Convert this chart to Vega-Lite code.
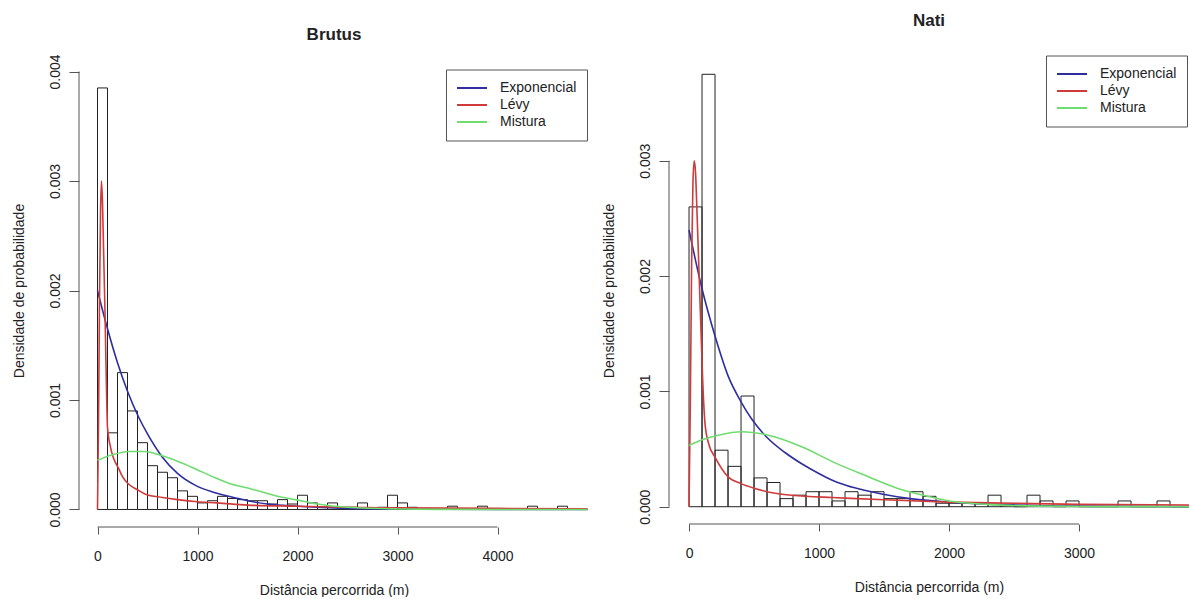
{
  "$schema": "https://vega.github.io/schema/vega-lite/v6.json",
  "background": "white",
  "padding": {"left": 11, "top": 12, "right": 0, "bottom": 0},
  "config": {
    "view": {"stroke": null},
    "font": "Liberation Sans",
    "axis": {"grid": false, "domain": false, "tickColor": "#555", "labelColor": "#222", "titleColor": "#222", "labelFont": "Liberation Sans", "titleFont": "Liberation Sans", "labelFontSize": 14, "titleFontSize": 14, "titleFontWeight": "normal", "labelFlush": false, "labelOverlap": false},
    "title": {"font": "Liberation Sans", "fontSize": 17, "fontWeight": "bold", "color": "#222", "anchor": "middle", "baseline": "alphabetic"}
  },
  "datasets": {
    "brutus_hist": [
      {"inicio": 0, "fim": 100, "densidade": 0.00385},
      {"inicio": 100, "fim": 200, "densidade": 0.0007},
      {"inicio": 200, "fim": 300, "densidade": 0.00125},
      {"inicio": 300, "fim": 400, "densidade": 0.0009},
      {"inicio": 400, "fim": 500, "densidade": 0.00061},
      {"inicio": 500, "fim": 600, "densidade": 0.0004},
      {"inicio": 600, "fim": 700, "densidade": 0.00034},
      {"inicio": 700, "fim": 800, "densidade": 0.00029},
      {"inicio": 800, "fim": 900, "densidade": 0.00017},
      {"inicio": 900, "fim": 1000, "densidade": 0.00012},
      {"inicio": 1000, "fim": 1100, "densidade": 0.00006},
      {"inicio": 1100, "fim": 1200, "densidade": 0.00008},
      {"inicio": 1200, "fim": 1300, "densidade": 0.00012},
      {"inicio": 1300, "fim": 1400, "densidade": 0.0001},
      {"inicio": 1400, "fim": 1500, "densidade": 0.00009},
      {"inicio": 1500, "fim": 1600, "densidade": 0.00008},
      {"inicio": 1600, "fim": 1700, "densidade": 0.00008},
      {"inicio": 1700, "fim": 1800, "densidade": 0.00005},
      {"inicio": 1800, "fim": 1900, "densidade": 0.00009},
      {"inicio": 1900, "fim": 2000, "densidade": 0.00005},
      {"inicio": 2000, "fim": 2100, "densidade": 0.00013},
      {"inicio": 2100, "fim": 2200, "densidade": 0.00006},
      {"inicio": 2200, "fim": 2300, "densidade": 0.00002},
      {"inicio": 2300, "fim": 2400, "densidade": 0.00006},
      {"inicio": 2400, "fim": 2500, "densidade": 0.00002},
      {"inicio": 2500, "fim": 2600, "densidade": 0.00002},
      {"inicio": 2600, "fim": 2700, "densidade": 0.00006},
      {"inicio": 2700, "fim": 2800, "densidade": 0},
      {"inicio": 2800, "fim": 2900, "densidade": 0.00002},
      {"inicio": 2900, "fim": 3000, "densidade": 0.00013},
      {"inicio": 3000, "fim": 3100, "densidade": 0.00006},
      {"inicio": 3100, "fim": 3200, "densidade": 0.00002},
      {"inicio": 3200, "fim": 3300, "densidade": 0},
      {"inicio": 3300, "fim": 3400, "densidade": 0},
      {"inicio": 3400, "fim": 3500, "densidade": 0},
      {"inicio": 3500, "fim": 3600, "densidade": 0.00003},
      {"inicio": 3600, "fim": 3700, "densidade": 0},
      {"inicio": 3700, "fim": 3800, "densidade": 0},
      {"inicio": 3800, "fim": 3900, "densidade": 0.00003},
      {"inicio": 3900, "fim": 4000, "densidade": 0},
      {"inicio": 4000, "fim": 4100, "densidade": 0},
      {"inicio": 4100, "fim": 4200, "densidade": 0},
      {"inicio": 4200, "fim": 4300, "densidade": 0},
      {"inicio": 4300, "fim": 4400, "densidade": 0.00003},
      {"inicio": 4400, "fim": 4500, "densidade": 0},
      {"inicio": 4500, "fim": 4600, "densidade": 0},
      {"inicio": 4600, "fim": 4700, "densidade": 0.00003},
      {"inicio": 4700, "fim": 4800, "densidade": 0},
      {"inicio": 4800, "fim": 4900, "densidade": 0}
    ],
    "brutus_curvas": [
      {"modelo": "Exponencial", "distancia": 0, "densidade": 0.002},
      {"modelo": "Exponencial", "distancia": 100, "densidade": 0.00165},
      {"modelo": "Exponencial", "distancia": 200, "densidade": 0.00134},
      {"modelo": "Exponencial", "distancia": 300, "densidade": 0.00108},
      {"modelo": "Exponencial", "distancia": 413, "densidade": 0.00084},
      {"modelo": "Exponencial", "distancia": 500, "densidade": 0.00069},
      {"modelo": "Exponencial", "distancia": 647, "densidade": 0.00048},
      {"modelo": "Exponencial", "distancia": 800, "densidade": 0.00033},
      {"modelo": "Exponencial", "distancia": 980, "densidade": 0.00022},
      {"modelo": "Exponencial", "distancia": 1150, "densidade": 0.00016},
      {"modelo": "Exponencial", "distancia": 1313, "densidade": 0.00012},
      {"modelo": "Exponencial", "distancia": 1500, "densidade": 0.00008},
      {"modelo": "Exponencial", "distancia": 1700, "densidade": 0.00005},
      {"modelo": "Exponencial", "distancia": 2000, "densidade": 0.00003},
      {"modelo": "Exponencial", "distancia": 2500, "densidade": 0.00001},
      {"modelo": "Exponencial", "distancia": 3000, "densidade": 0.000004},
      {"modelo": "Exponencial", "distancia": 4000, "densidade": 0.000001},
      {"modelo": "Exponencial", "distancia": 4900, "densidade": 0},
      {"modelo": "Lévy", "distancia": 0, "densidade": 0},
      {"modelo": "Lévy", "distancia": 10, "densidade": 0.0008},
      {"modelo": "Lévy", "distancia": 20, "densidade": 0.0019},
      {"modelo": "Lévy", "distancia": 30, "densidade": 0.0027},
      {"modelo": "Lévy", "distancia": 40, "densidade": 0.003},
      {"modelo": "Lévy", "distancia": 50, "densidade": 0.0028},
      {"modelo": "Lévy", "distancia": 60, "densidade": 0.0024},
      {"modelo": "Lévy", "distancia": 75, "densidade": 0.0018},
      {"modelo": "Lévy", "distancia": 90, "densidade": 0.0011},
      {"modelo": "Lévy", "distancia": 100, "densidade": 0.00075},
      {"modelo": "Lévy", "distancia": 130, "densidade": 0.00057},
      {"modelo": "Lévy", "distancia": 160, "densidade": 0.00047},
      {"modelo": "Lévy", "distancia": 213, "densidade": 0.00037},
      {"modelo": "Lévy", "distancia": 250, "densidade": 0.0003},
      {"modelo": "Lévy", "distancia": 313, "densidade": 0.00023},
      {"modelo": "Lévy", "distancia": 400, "densidade": 0.00018},
      {"modelo": "Lévy", "distancia": 480, "densidade": 0.00014},
      {"modelo": "Lévy", "distancia": 650, "densidade": 0.00011},
      {"modelo": "Lévy", "distancia": 800, "densidade": 0.00009},
      {"modelo": "Lévy", "distancia": 1000, "densidade": 0.00007},
      {"modelo": "Lévy", "distancia": 1200, "densidade": 0.00006},
      {"modelo": "Lévy", "distancia": 1500, "densidade": 0.00004},
      {"modelo": "Lévy", "distancia": 2000, "densidade": 0.00003},
      {"modelo": "Lévy", "distancia": 2500, "densidade": 0.00002},
      {"modelo": "Lévy", "distancia": 3000, "densidade": 0.000015},
      {"modelo": "Lévy", "distancia": 4000, "densidade": 0.00001},
      {"modelo": "Lévy", "distancia": 4900, "densidade": 0.000007},
      {"modelo": "Mistura", "distancia": 0, "densidade": 0.00045},
      {"modelo": "Mistura", "distancia": 150, "densidade": 0.0005},
      {"modelo": "Mistura", "distancia": 313, "densidade": 0.00053},
      {"modelo": "Mistura", "distancia": 470, "densidade": 0.00053},
      {"modelo": "Mistura", "distancia": 647, "densidade": 0.00049},
      {"modelo": "Mistura", "distancia": 800, "densidade": 0.00044},
      {"modelo": "Mistura", "distancia": 980, "densidade": 0.00037},
      {"modelo": "Mistura", "distancia": 1150, "densidade": 0.0003},
      {"modelo": "Mistura", "distancia": 1313, "densidade": 0.00024},
      {"modelo": "Mistura", "distancia": 1480, "densidade": 0.0002},
      {"modelo": "Mistura", "distancia": 1647, "densidade": 0.00016},
      {"modelo": "Mistura", "distancia": 1800, "densidade": 0.00012},
      {"modelo": "Mistura", "distancia": 1980, "densidade": 0.00009},
      {"modelo": "Mistura", "distancia": 2200, "densidade": 0.00005},
      {"modelo": "Mistura", "distancia": 2500, "densidade": 0.00002},
      {"modelo": "Mistura", "distancia": 3000, "densidade": 0.000005},
      {"modelo": "Mistura", "distancia": 3500, "densidade": 0.000001},
      {"modelo": "Mistura", "distancia": 4900, "densidade": 0}
    ],
    "nati_hist": [
      {"inicio": 0, "fim": 100, "densidade": 0.0026},
      {"inicio": 100, "fim": 200, "densidade": 0.00375},
      {"inicio": 200, "fim": 300, "densidade": 0.00049},
      {"inicio": 300, "fim": 400, "densidade": 0.00035},
      {"inicio": 400, "fim": 500, "densidade": 0.00096},
      {"inicio": 500, "fim": 600, "densidade": 0.00025},
      {"inicio": 600, "fim": 700, "densidade": 0.00021},
      {"inicio": 700, "fim": 800, "densidade": 0.00007},
      {"inicio": 800, "fim": 900, "densidade": 0.0001},
      {"inicio": 900, "fim": 1000, "densidade": 0.00013},
      {"inicio": 1000, "fim": 1100, "densidade": 0.00013},
      {"inicio": 1100, "fim": 1200, "densidade": 0.00005},
      {"inicio": 1200, "fim": 1300, "densidade": 0.00013},
      {"inicio": 1300, "fim": 1400, "densidade": 0.0001},
      {"inicio": 1400, "fim": 1500, "densidade": 0.00013},
      {"inicio": 1500, "fim": 1600, "densidade": 0.00007},
      {"inicio": 1600, "fim": 1700, "densidade": 0.00007},
      {"inicio": 1700, "fim": 1800, "densidade": 0.00013},
      {"inicio": 1800, "fim": 1900, "densidade": 0.00009},
      {"inicio": 1900, "fim": 2000, "densidade": 0.00003},
      {"inicio": 2000, "fim": 2100, "densidade": 0.00003},
      {"inicio": 2100, "fim": 2200, "densidade": 0.00003},
      {"inicio": 2200, "fim": 2300, "densidade": 0.00003},
      {"inicio": 2300, "fim": 2400, "densidade": 0.0001},
      {"inicio": 2400, "fim": 2500, "densidade": 0.00002},
      {"inicio": 2500, "fim": 2600, "densidade": 0},
      {"inicio": 2600, "fim": 2700, "densidade": 0.0001},
      {"inicio": 2700, "fim": 2800, "densidade": 0.00005},
      {"inicio": 2800, "fim": 2900, "densidade": 0},
      {"inicio": 2900, "fim": 3000, "densidade": 0.00005},
      {"inicio": 3000, "fim": 3100, "densidade": 0},
      {"inicio": 3100, "fim": 3200, "densidade": 0},
      {"inicio": 3200, "fim": 3300, "densidade": 0},
      {"inicio": 3300, "fim": 3400, "densidade": 0.00005},
      {"inicio": 3400, "fim": 3500, "densidade": 0},
      {"inicio": 3500, "fim": 3600, "densidade": 0},
      {"inicio": 3600, "fim": 3700, "densidade": 0.00005},
      {"inicio": 3700, "fim": 3800, "densidade": 0},
      {"inicio": 3800, "fim": 3900, "densidade": 0}
    ],
    "nati_curvas": [
      {"modelo": "Exponencial", "distancia": 0, "densidade": 0.0024},
      {"modelo": "Exponencial", "distancia": 100, "densidade": 0.00189},
      {"modelo": "Exponencial", "distancia": 200, "densidade": 0.00148},
      {"modelo": "Exponencial", "distancia": 302, "densidade": 0.00113},
      {"modelo": "Exponencial", "distancia": 400, "densidade": 0.00091},
      {"modelo": "Exponencial", "distancia": 482, "densidade": 0.00076},
      {"modelo": "Exponencial", "distancia": 600, "densidade": 0.0006},
      {"modelo": "Exponencial", "distancia": 738, "densidade": 0.00047},
      {"modelo": "Exponencial", "distancia": 870, "densidade": 0.00037},
      {"modelo": "Exponencial", "distancia": 995, "densidade": 0.00029},
      {"modelo": "Exponencial", "distancia": 1120, "densidade": 0.00022},
      {"modelo": "Exponencial", "distancia": 1252, "densidade": 0.00017},
      {"modelo": "Exponencial", "distancia": 1482, "densidade": 0.00011},
      {"modelo": "Exponencial", "distancia": 1700, "densidade": 0.00007},
      {"modelo": "Exponencial", "distancia": 2000, "densidade": 0.00004},
      {"modelo": "Exponencial", "distancia": 2500, "densidade": 0.000015},
      {"modelo": "Exponencial", "distancia": 3000, "densidade": 0.000005},
      {"modelo": "Exponencial", "distancia": 3850, "densidade": 0.000001},
      {"modelo": "Lévy", "distancia": 0, "densidade": 0},
      {"modelo": "Lévy", "distancia": 10, "densidade": 0.0009},
      {"modelo": "Lévy", "distancia": 20, "densidade": 0.0021},
      {"modelo": "Lévy", "distancia": 30, "densidade": 0.0028},
      {"modelo": "Lévy", "distancia": 40, "densidade": 0.003},
      {"modelo": "Lévy", "distancia": 50, "densidade": 0.0029},
      {"modelo": "Lévy", "distancia": 60, "densidade": 0.0026},
      {"modelo": "Lévy", "distancia": 75, "densidade": 0.0021},
      {"modelo": "Lévy", "distancia": 90, "densidade": 0.0016},
      {"modelo": "Lévy", "distancia": 105, "densidade": 0.0011},
      {"modelo": "Lévy", "distancia": 123, "densidade": 0.00072},
      {"modelo": "Lévy", "distancia": 150, "densidade": 0.00055},
      {"modelo": "Lévy", "distancia": 200, "densidade": 0.00043},
      {"modelo": "Lévy", "distancia": 300, "densidade": 0.00026},
      {"modelo": "Lévy", "distancia": 400, "densidade": 0.0002},
      {"modelo": "Lévy", "distancia": 500, "densidade": 0.00016},
      {"modelo": "Lévy", "distancia": 700, "densidade": 0.00011},
      {"modelo": "Lévy", "distancia": 900, "densidade": 0.00009},
      {"modelo": "Lévy", "distancia": 1100, "densidade": 0.00008},
      {"modelo": "Lévy", "distancia": 1500, "densidade": 0.00006},
      {"modelo": "Lévy", "distancia": 2000, "densidade": 0.00004},
      {"modelo": "Lévy", "distancia": 2500, "densidade": 0.00003},
      {"modelo": "Lévy", "distancia": 3000, "densidade": 0.00002},
      {"modelo": "Lévy", "distancia": 3850, "densidade": 0.000015},
      {"modelo": "Mistura", "distancia": 0, "densidade": 0.00053},
      {"modelo": "Mistura", "distancia": 100, "densidade": 0.00058},
      {"modelo": "Mistura", "distancia": 225, "densidade": 0.00062},
      {"modelo": "Mistura", "distancia": 405, "densidade": 0.00065},
      {"modelo": "Mistura", "distancia": 610, "densidade": 0.00062},
      {"modelo": "Mistura", "distancia": 867, "densidade": 0.00052},
      {"modelo": "Mistura", "distancia": 1123, "densidade": 0.00038},
      {"modelo": "Mistura", "distancia": 1379, "densidade": 0.00026},
      {"modelo": "Mistura", "distancia": 1600, "densidade": 0.00016},
      {"modelo": "Mistura", "distancia": 1800, "densidade": 0.0001},
      {"modelo": "Mistura", "distancia": 2000, "densidade": 0.00005},
      {"modelo": "Mistura", "distancia": 2300, "densidade": 0.00002},
      {"modelo": "Mistura", "distancia": 2700, "densidade": 0.000005},
      {"modelo": "Mistura", "distancia": 3200, "densidade": 0.000001},
      {"modelo": "Mistura", "distancia": 3850, "densidade": 0}
    ]
  },
  "bounds": "flush",
  "center": true,
  "spacing": 80,
  "resolve": {"scale": {"x": "independent", "y": "independent", "color": "independent"}, "legend": {"color": "independent"}},
  "hconcat": [
    {
      "title": {"text": "Brutus", "offset": 10},
      "width": 510,
      "height": 473,
      "layer": [
        {
          "data": {"name": "brutus_hist"},
          "mark": {"type": "rect", "fillOpacity": 0, "stroke": "#222", "strokeWidth": 1, "clip": true},
          "encoding": {
            "x": {"field": "inicio", "type": "quantitative", "scale": {"domain": [-185, 4915], "nice": false, "zero": false},
                  "axis": {"title": "Distância percorrida (m)", "values": [0, 1000, 2000, 3000, 4000], "format": "d", "tickSize": 7, "labelPadding": 15, "titlePadding": 20}},
            "x2": {"field": "fim"},
            "y": {"field": "densidade", "type": "quantitative", "scale": {"domain": [-0.00016, 0.00416], "nice": false, "zero": false},
                  "axis": {"title": "Densidade de probabilidade", "values": [0, 0.001, 0.002, 0.003, 0.004], "format": ".3f", "labelAngle": -90, "tickSize": 10, "labelPadding": 7, "titlePadding": 22}},
            "y2": {"datum": 0}
          }
        },
        {
          "data": {"name": "brutus_curvas"},
          "mark": {"type": "line", "strokeWidth": 1.6, "interpolate": "monotone", "clip": true},
          "encoding": {
            "x": {"field": "distancia", "type": "quantitative", "scale": {"domain": [-185, 4915], "nice": false, "zero": false},
                  "axis": {"title": "Distância percorrida (m)", "values": [0, 1000, 2000, 3000, 4000], "format": "d", "tickSize": 7, "labelPadding": 15, "titlePadding": 20}},
            "y": {"field": "densidade", "type": "quantitative", "scale": {"domain": [-0.00016, 0.00416], "nice": false, "zero": false},
                  "axis": {"title": "Densidade de probabilidade", "values": [0, 0.001, 0.002, 0.003, 0.004], "format": ".3f", "labelAngle": -90, "tickSize": 10, "labelPadding": 7, "titlePadding": 22}},
            "color": {"field": "modelo", "type": "nominal",
                      "scale": {"domain": ["Exponencial", "Lévy", "Mistura"], "range": ["#2e2e9e", "#d03a3a", "#6fdc6f"]},
                      "legend": {"orient": "none", "legendX": 367, "legendY": 15.5, "direction": "vertical", "title": null, "symbolType": "stroke", "symbolSize": 900, "symbolStrokeWidth": 2, "labelFontSize": 14, "labelColor": "#222", "labelFont": "Liberation Sans", "clipHeight": 17, "rowPadding": 0, "padding": 10, "strokeColor": "#555", "fillColor": "white", "labelOffset": 12}}
          }
        },
        {
          "data": {"values": [{}]},
          "mark": {"type": "rule", "color": "#555", "strokeWidth": 1},
          "encoding": {
            "x": {"datum": 0, "type": "quantitative", "scale": {"domain": [-185, 4915], "nice": false, "zero": false},
                  "axis": {"title": "Distância percorrida (m)", "values": [0, 1000, 2000, 3000, 4000], "format": "d", "tickSize": 7, "labelPadding": 15, "titlePadding": 20}},
            "x2": {"datum": 4000},
            "y": {"datum": -0.00016, "type": "quantitative", "scale": {"domain": [-0.00016, 0.00416], "nice": false, "zero": false},
                  "axis": {"title": "Densidade de probabilidade", "values": [0, 0.001, 0.002, 0.003, 0.004], "format": ".3f", "labelAngle": -90, "tickSize": 10, "labelPadding": 7, "titlePadding": 22}}
          }
        },
        {
          "data": {"values": [{}]},
          "mark": {"type": "rule", "color": "#555", "strokeWidth": 1},
          "encoding": {
            "x": {"datum": -185, "type": "quantitative", "scale": {"domain": [-185, 4915], "nice": false, "zero": false},
                  "axis": {"title": "Distância percorrida (m)", "values": [0, 1000, 2000, 3000, 4000], "format": "d", "tickSize": 7, "labelPadding": 15, "titlePadding": 20}},
            "y": {"datum": 0, "type": "quantitative", "scale": {"domain": [-0.00016, 0.00416], "nice": false, "zero": false},
                  "axis": {"title": "Densidade de probabilidade", "values": [0, 0.001, 0.002, 0.003, 0.004], "format": ".3f", "labelAngle": -90, "tickSize": 10, "labelPadding": 7, "titlePadding": 22}},
            "y2": {"datum": 0.004}
          }
        }
      ]
    },
    {
      "title": {"text": "Nati", "offset": 25},
      "width": 520,
      "height": 467,
      "layer": [
        {
          "data": {"name": "nati_hist"},
          "mark": {"type": "rect", "fillOpacity": 0, "stroke": "#222", "strokeWidth": 1, "clip": true},
          "encoding": {
            "x": {"field": "inicio", "type": "quantitative", "scale": {"domain": [-154, 3846], "nice": false, "zero": false},
                  "axis": {"title": "Distância percorrida (m)", "values": [0, 1000, 2000, 3000], "format": "d", "tickSize": 7, "labelPadding": 15, "titlePadding": 20}},
            "x2": {"field": "fim"},
            "y": {"field": "densidade", "type": "quantitative", "scale": {"domain": [-0.00015, 0.0039], "nice": false, "zero": false},
                  "axis": {"title": "Densidade de probabilidade", "values": [0, 0.001, 0.002, 0.003], "format": ".3f", "labelAngle": -90, "tickSize": 10, "labelPadding": 7, "titlePadding": 22}},
            "y2": {"datum": 0}
          }
        },
        {
          "data": {"name": "nati_curvas"},
          "mark": {"type": "line", "strokeWidth": 1.6, "interpolate": "monotone", "clip": true},
          "encoding": {
            "x": {"field": "distancia", "type": "quantitative", "scale": {"domain": [-154, 3846], "nice": false, "zero": false},
                  "axis": {"title": "Distância percorrida (m)", "values": [0, 1000, 2000, 3000], "format": "d", "tickSize": 7, "labelPadding": 15, "titlePadding": 20}},
            "y": {"field": "densidade", "type": "quantitative", "scale": {"domain": [-0.00015, 0.0039], "nice": false, "zero": false},
                  "axis": {"title": "Densidade de probabilidade", "values": [0, 0.001, 0.002, 0.003], "format": ".3f", "labelAngle": -90, "tickSize": 10, "labelPadding": 7, "titlePadding": 22}},
            "color": {"field": "modelo", "type": "nominal",
                      "scale": {"domain": ["Exponencial", "Lévy", "Mistura"], "range": ["#2e2e9e", "#d03a3a", "#6fdc6f"]},
                      "legend": {"orient": "none", "legendX": 377, "legendY": -1.5, "direction": "vertical", "title": null, "symbolType": "stroke", "symbolSize": 900, "symbolStrokeWidth": 2, "labelFontSize": 14, "labelColor": "#222", "labelFont": "Liberation Sans", "clipHeight": 17, "rowPadding": 0, "padding": 10, "strokeColor": "#555", "fillColor": "white", "labelOffset": 12}}
          }
        },
        {
          "data": {"values": [{}]},
          "mark": {"type": "rule", "color": "#555", "strokeWidth": 1},
          "encoding": {
            "x": {"datum": 0, "type": "quantitative", "scale": {"domain": [-154, 3846], "nice": false, "zero": false},
                  "axis": {"title": "Distância percorrida (m)", "values": [0, 1000, 2000, 3000], "format": "d", "tickSize": 7, "labelPadding": 15, "titlePadding": 20}},
            "x2": {"datum": 3000},
            "y": {"datum": -0.00015, "type": "quantitative", "scale": {"domain": [-0.00015, 0.0039], "nice": false, "zero": false},
                  "axis": {"title": "Densidade de probabilidade", "values": [0, 0.001, 0.002, 0.003], "format": ".3f", "labelAngle": -90, "tickSize": 10, "labelPadding": 7, "titlePadding": 22}}
          }
        },
        {
          "data": {"values": [{}]},
          "mark": {"type": "rule", "color": "#555", "strokeWidth": 1},
          "encoding": {
            "x": {"datum": -154, "type": "quantitative", "scale": {"domain": [-154, 3846], "nice": false, "zero": false},
                  "axis": {"title": "Distância percorrida (m)", "values": [0, 1000, 2000, 3000], "format": "d", "tickSize": 7, "labelPadding": 15, "titlePadding": 20}},
            "y": {"datum": 0, "type": "quantitative", "scale": {"domain": [-0.00015, 0.0039], "nice": false, "zero": false},
                  "axis": {"title": "Densidade de probabilidade", "values": [0, 0.001, 0.002, 0.003], "format": ".3f", "labelAngle": -90, "tickSize": 10, "labelPadding": 7, "titlePadding": 22}},
            "y2": {"datum": 0.003}
          }
        }
      ]
    }
  ]
}
